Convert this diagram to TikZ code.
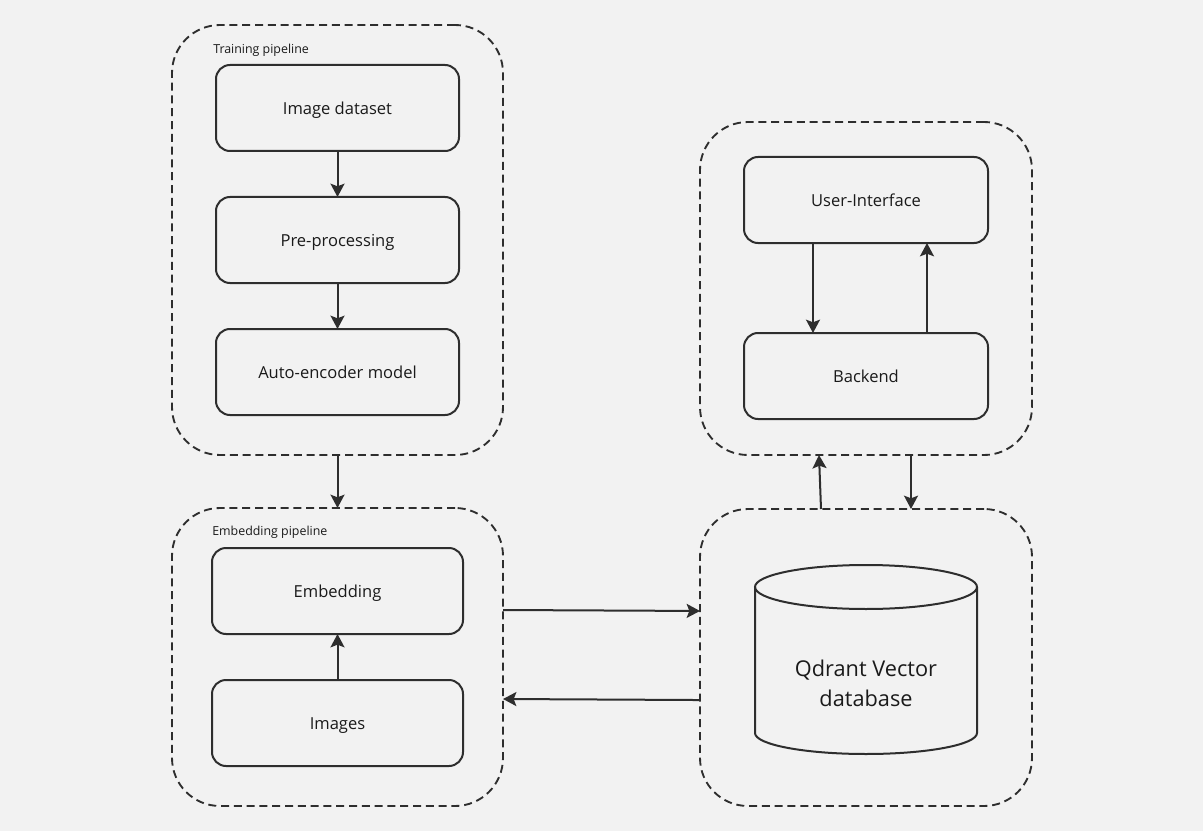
\documentclass[tikz,border=0pt]{standalone}
\usepackage{fontspec}
\setmainfont{Open Sans}
\usetikzlibrary{arrows.meta}
\definecolor{bg}{HTML}{F2F2F2}
\definecolor{ln}{HTML}{2E2E2E}
\definecolor{tx}{HTML}{1A1A1A}
\begin{document}
\begin{tikzpicture}[x=0.75pt,y=-0.75pt,
  container/.style={draw=ln, line width=1.4pt, dash pattern=on 6pt off 3.6pt, rounded corners=36pt, inner sep=0pt, outer sep=0pt},
  box/.style={draw=ln, line width=1.5pt, rounded corners=10.5pt, text=tx, inner sep=0pt, outer sep=0pt, text height=10pt, text depth=0pt, font=\fontsize{12.4}{14}\selectfont},
  grouplabel/.style={text=tx, anchor=west, inner sep=0pt, font=\fontsize{9.3}{11}\selectfont},
  arr/.style={draw=ln, line width=1.5pt, -{Stealth[length=10pt,width=10.5pt,inset=2pt]}},
  shape line/.style={draw=ln, line width=1.5pt}
]
\fill[bg] (0,0) rectangle (1203,831);
\useasboundingbox (0,0) rectangle (1203,831);

% containers
\node[container, minimum width=248.25pt, minimum height=322.5pt] (tc) at (337.5,240) {};
\node[container, minimum width=248.25pt, minimum height=223.5pt] (ec) at (337.5,657) {};
\node[container, minimum width=249pt, minimum height=249.75pt] (uc) at (866,288.5) {};
\node[container, minimum width=249pt, minimum height=222.75pt] (dc) at (866,657.5) {};

% group labels
\node[grouplabel] (tl) at (213,50) {Training pipeline};
\node[grouplabel] (el) at (212,532) {Embedding pipeline};

% boxes
\node[box, minimum width=182.25pt, minimum height=64.5pt] (ds) at (337.5,108) {Image dataset};
\node[box, minimum width=182.25pt, minimum height=64.5pt] (pp) at (337.5,240) {Pre-processing};
\node[box, minimum width=182.25pt, minimum height=64.5pt] (ae) at (337.5,372) {Auto-encoder model};
\node[box, minimum width=188.25pt, minimum height=64.5pt] (em) at (337.5,591) {Embedding};
\node[box, minimum width=188.25pt, minimum height=64.5pt] (im) at (337.5,723) {Images};
\node[box, minimum width=183pt, minimum height=64.5pt] (ui) at (866,200) {User-Interface};
\node[box, minimum width=183pt, minimum height=64.5pt] (be) at (866,376) {Backend};

% cylinder
\draw[shape line] (866,587) ellipse [x radius=83.25pt, y radius=16.5pt];
\draw[shape line] (755,587) -- (755,733)
  .. controls (755,744.6) and (804.7,754) .. (866,754)
  .. controls (927.3,754) and (977,744.6) .. (977,733) -- (977,587);
\node[text=tx, align=center, inner sep=0pt, font=\fontsize{16.3}{22.5}\selectfont] (db) at (866,683) {Qdrant Vector\\database};

% arrows
\draw[arr] (ds) -- (pp);
\draw[arr] (pp) -- (ae);
\draw[arr] (tc) -- (ec);
\draw[arr] (im) -- (em);
\draw[arr] ([yshift=35.25pt]ec.east) -- ([yshift=34.9pt]dc.west);
\draw[arr] ([yshift=-31.9pt]dc.west) -- ([yshift=-31.5pt]ec.east);
\draw[arr] ([xshift=-39.75pt]ui.south) -- ([xshift=-39.75pt]be.north);
\draw[arr] ([xshift=45.75pt]be.north) -- ([xshift=45.75pt]ui.south);
\draw[arr] ([xshift=-33.75pt]dc.north) -- ([xshift=-35.25pt]uc.south);
\draw[arr] ([xshift=33.75pt]uc.south) -- ([xshift=33.75pt]dc.north);
\end{tikzpicture}
\end{document}
